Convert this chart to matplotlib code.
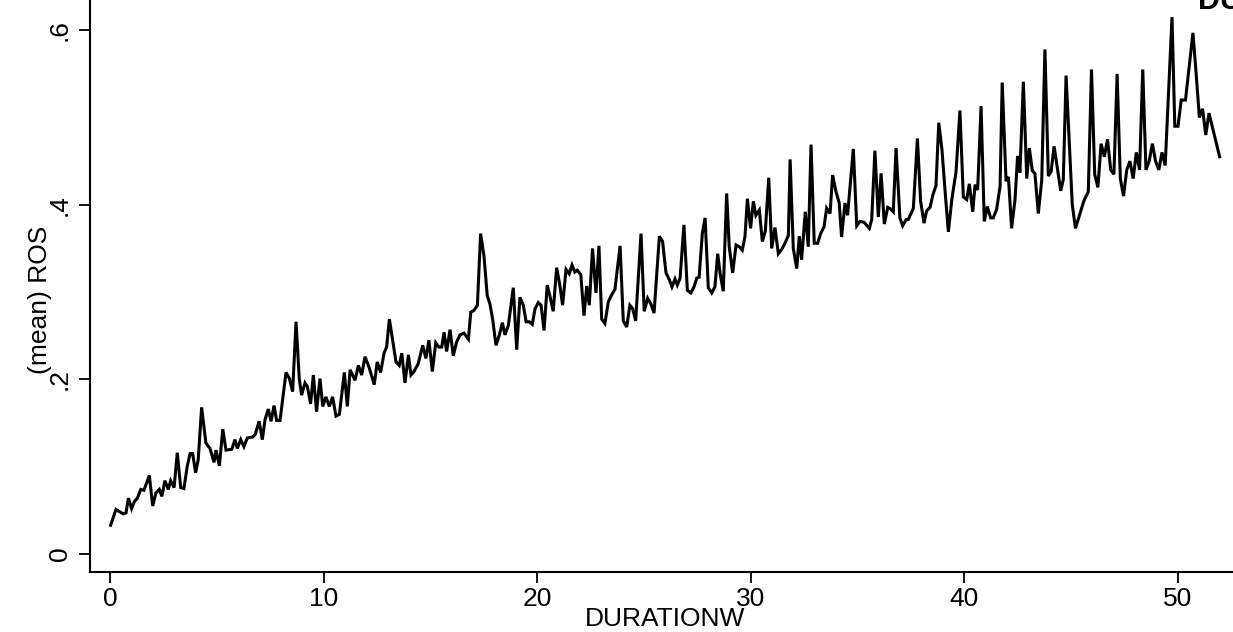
import matplotlib
matplotlib.use("Agg")
import matplotlib.pyplot as plt

# ---- data ----
duration_w = [
    0.03, 0.28, 0.62, 0.75, 0.86, 1.01, 1.14, 1.28, 1.44, 1.59, 1.84, 2.00, 2.15, 2.31, 2.43, 2.57,
    2.73, 2.84, 3.00, 3.15, 3.31, 3.46, 3.62, 3.75, 3.87, 4.01, 4.13, 4.29, 4.49, 4.68, 4.87, 4.96,
    5.12, 5.28, 5.43, 5.70, 5.85, 5.96, 6.12, 6.27, 6.43, 6.68, 6.80, 6.98, 7.13, 7.26, 7.41, 7.54,
    7.68, 7.80, 7.96, 8.24, 8.40, 8.55, 8.71, 8.86, 8.97, 9.13, 9.24, 9.39, 9.52, 9.67, 9.83, 9.96,
    10.11, 10.27, 10.42, 10.58, 10.74, 10.97, 11.11, 11.24, 11.47, 11.63, 11.78, 11.94, 12.14, 12.37,
    12.51, 12.67, 12.83, 12.95, 13.08, 13.23, 13.39, 13.54, 13.66, 13.81, 13.97, 14.09, 14.23, 14.43,
    14.64, 14.79, 14.93, 15.09, 15.25, 15.40, 15.53, 15.64, 15.76, 15.92, 16.07, 16.23, 16.39, 16.57,
    16.78, 16.89, 17.04, 17.20, 17.35, 17.51, 17.66, 17.79, 17.92, 18.07, 18.23, 18.37, 18.49, 18.65,
    18.88, 19.04, 19.19, 19.35, 19.48, 19.63, 19.77, 19.90, 20.05, 20.18, 20.32, 20.47, 20.60, 20.75,
    20.91, 21.04, 21.19, 21.35, 21.50, 21.63, 21.76, 21.88, 22.04, 22.19, 22.32, 22.44, 22.59, 22.75,
    22.89, 23.02, 23.17, 23.33, 23.49, 23.64, 23.88, 24.03, 24.19, 24.34, 24.47, 24.61, 24.86, 25.01,
    25.17, 25.33, 25.47, 25.72, 25.87, 26.03, 26.19, 26.31, 26.45, 26.56, 26.69, 26.87, 27.03, 27.19,
    27.34, 27.47, 27.58, 27.73, 27.86, 28.01, 28.17, 28.32, 28.45, 28.56, 28.71, 28.87, 28.99, 29.15,
    29.31, 29.46, 29.60, 29.73, 29.84, 29.99, 30.12, 30.24, 30.40, 30.54, 30.68, 30.84, 30.98, 31.13,
    31.29, 31.45, 31.60, 31.76, 31.84, 31.99, 32.15, 32.27, 32.38, 32.55, 32.69, 32.82, 32.97, 33.13,
    33.27, 33.43, 33.55, 33.71, 33.83, 33.99, 34.14, 34.25, 34.41, 34.53, 34.80, 34.96, 35.11, 35.30,
    35.55, 35.66, 35.81, 35.97, 36.10, 36.25, 36.41, 36.56, 36.67, 36.80, 36.98, 37.11, 37.27, 37.37,
    37.61, 37.80, 37.95, 38.11, 38.23, 38.39, 38.52, 38.67, 38.80, 38.95, 39.11, 39.25, 39.41, 39.61,
    39.79, 39.95, 40.11, 40.23, 40.39, 40.50, 40.62, 40.78, 40.93, 41.07, 41.23, 41.35, 41.51, 41.67,
    41.77, 41.95, 42.06, 42.21, 42.37, 42.49, 42.60, 42.76, 42.92, 43.04, 43.18, 43.30, 43.46, 43.62,
    43.77, 43.93, 44.06, 44.20, 44.35, 44.51, 44.63, 44.76, 45.05, 45.20, 45.41, 45.60, 45.80, 45.95,
    46.10, 46.25, 46.40, 46.55, 46.70, 46.85, 47.00, 47.15, 47.30, 47.45, 47.60, 47.75, 47.90, 48.05,
    48.20, 48.35, 48.50, 48.65, 48.80, 48.95, 49.10, 49.25, 49.40, 49.72, 49.85, 50.00, 50.15, 50.35,
    50.70, 50.85, 51.00, 51.15, 51.30, 51.45, 51.95,
]
mean_ros = [
    0.033, 0.051, 0.046, 0.047, 0.064, 0.052, 0.060, 0.064, 0.074, 0.073, 0.090, 0.055, 0.070, 0.074, 0.066, 0.084,
    0.074, 0.084, 0.076, 0.116, 0.076, 0.075, 0.101, 0.115, 0.115, 0.093, 0.108, 0.168, 0.127, 0.121, 0.105, 0.119,
    0.101, 0.143, 0.119, 0.120, 0.131, 0.121, 0.131, 0.123, 0.133, 0.134, 0.137, 0.152, 0.131, 0.154, 0.166, 0.152,
    0.170, 0.153, 0.153, 0.208, 0.201, 0.186, 0.266, 0.201, 0.182, 0.196, 0.192, 0.172, 0.205, 0.163, 0.201, 0.169,
    0.180, 0.169, 0.180, 0.158, 0.160, 0.208, 0.169, 0.211, 0.199, 0.216, 0.205, 0.226, 0.213, 0.194,
    0.220, 0.208, 0.230, 0.237, 0.269, 0.245, 0.220, 0.216, 0.230, 0.196, 0.228, 0.205, 0.209, 0.218,
    0.239, 0.224, 0.245, 0.209, 0.242, 0.237, 0.237, 0.254, 0.232, 0.257, 0.227, 0.243, 0.251, 0.253,
    0.246, 0.277, 0.279, 0.285, 0.367, 0.341, 0.296, 0.286, 0.268, 0.239, 0.251, 0.265, 0.251, 0.262,
    0.305, 0.234, 0.294, 0.285, 0.266, 0.266, 0.263, 0.281, 0.288, 0.285, 0.256, 0.308, 0.295, 0.278,
    0.328, 0.311, 0.285, 0.326, 0.321, 0.331, 0.323, 0.325, 0.320, 0.273, 0.307, 0.285, 0.350, 0.299,
    0.353, 0.269, 0.264, 0.289, 0.297, 0.303, 0.353, 0.267, 0.260, 0.285, 0.281, 0.267, 0.367, 0.278,
    0.293, 0.286, 0.276, 0.364, 0.358, 0.322, 0.314, 0.306, 0.315, 0.308, 0.316, 0.377, 0.302, 0.299,
    0.306, 0.316, 0.317, 0.367, 0.385, 0.305, 0.299, 0.306, 0.344, 0.322, 0.301, 0.413, 0.352, 0.322,
    0.354, 0.352, 0.348, 0.364, 0.407, 0.373, 0.404, 0.388, 0.394, 0.358, 0.370, 0.431, 0.350, 0.374,
    0.344, 0.349, 0.356, 0.365, 0.452, 0.350, 0.327, 0.364, 0.337, 0.392, 0.352, 0.469, 0.356, 0.356,
    0.367, 0.375, 0.396, 0.390, 0.434, 0.415, 0.402, 0.363, 0.402, 0.388, 0.464, 0.376, 0.381, 0.380,
    0.373, 0.383, 0.462, 0.386, 0.436, 0.378, 0.397, 0.395, 0.392, 0.465, 0.385, 0.376, 0.383, 0.383,
    0.396, 0.476, 0.404, 0.379, 0.393, 0.397, 0.411, 0.422, 0.494, 0.463, 0.411, 0.369, 0.406, 0.438,
    0.508, 0.409, 0.406, 0.424, 0.392, 0.423, 0.417, 0.513, 0.381, 0.398, 0.385, 0.385, 0.395, 0.421,
    0.540, 0.427, 0.432, 0.373, 0.406, 0.456, 0.437, 0.541, 0.430, 0.465, 0.439, 0.436, 0.390, 0.428,
    0.578, 0.433, 0.438, 0.467, 0.442, 0.416, 0.429, 0.548, 0.400, 0.373, 0.390, 0.405, 0.415, 0.555,
    0.435, 0.420, 0.470, 0.455, 0.475, 0.440, 0.435, 0.550, 0.430, 0.410, 0.440, 0.450, 0.430, 0.460,
    0.440, 0.555, 0.440, 0.450, 0.470, 0.450, 0.440, 0.460, 0.445, 0.615, 0.490, 0.490, 0.520, 0.520,
    0.597, 0.550, 0.500, 0.510, 0.480, 0.505, 0.455,
]
x_ticks = [0, 10, 20, 30, 40, 50]
y_ticks = [0.0, 0.2, 0.4, 0.6]
y_tick_labels = ["0", ".2", ".4", ".6"]

# ---- figure ----
W, H = 1233, 632
DPI = 100
plt.rcParams["font.family"] = ["Liberation Sans", "DejaVu Sans"]
fig = plt.figure(figsize=(W / DPI, H / DPI), dpi=DPI, facecolor="white")

ax_left, ax_bottom = 90, 572  # pixel positions of the axis lines
ax = fig.add_axes([ax_left / W, (H - ax_bottom) / H, 1 - ax_left / W, ax_bottom / H])

ax.plot(duration_w, mean_ros, color="black", lw=2.2, solid_joinstyle="miter")

x0_px, px_per_unit = 110, 21.36
y0_px, px_per_val = 554, 873
ax.set_xlim((ax_left - x0_px) / px_per_unit, (W - x0_px) / px_per_unit)
ax.set_ylim((y0_px - ax_bottom) / px_per_val, y0_px / px_per_val)

for s in ("top", "right"):
    ax.spines[s].set_visible(False)
for s in ("left", "bottom"):
    ax.spines[s].set_linewidth(1.5)
    ax.spines[s].set_color("black")

ax.set_xticks(x_ticks)
ax.set_xticklabels([str(t) for t in x_ticks])
ax.set_yticks(y_ticks)
ax.set_yticklabels(y_tick_labels, rotation=90, va="center")
ax.tick_params(direction="out", length=8, width=1.3, labelsize=19, colors="black")
ax.tick_params(axis="x", pad=3)
ax.tick_params(axis="y", pad=5)

fig.text(665 / W, 1 - 631 / H, "DURATIONW", ha="center", va="bottom", fontsize=19)
fig.text(40 / W, 1 - 300 / H, "(mean) ROS", ha="center", va="center", rotation=90, fontsize=19)
fig.text(1198 / W, 1 - 9 / H, "DU", ha="left", va="baseline", fontsize=22, fontweight="bold")

fig.savefig("out.png", dpi=DPI, facecolor="white")
